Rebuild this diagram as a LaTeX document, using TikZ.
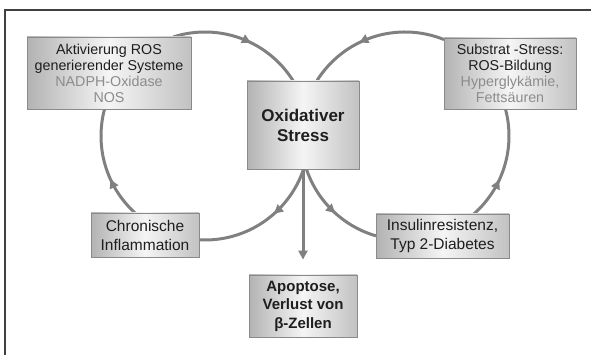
\documentclass[tikz,border=0pt]{standalone}
\usepackage{fontspec}
\setmainfont{Liberation Sans}
\usetikzlibrary{calc,arrows.meta,decorations.markings}
\definecolor{txt}{HTML}{1E1E1E}
\definecolor{txtgray}{HTML}{8C8C8C}
\definecolor{loopgray}{HTML}{808080}
\definecolor{boxedge}{HTML}{8A8A8A}
\tikzset{
  box/.style={draw=boxedge, line width=0.8pt, left color=black!30, right color=black!24, middle color=black!4,
    align=center, inner sep=2pt, text=txt},
  smalltext/.style={font=\fontsize{14.3}{16}\selectfont},
  midtext/.style={font=\fontsize{15.5}{19}\selectfont},
  loopline/.style={draw=loopgray, line width=3pt},
  tipat/.style={postaction={decorate}, decoration={markings,
    mark=at position #1 with {\arrow[loopgray]{Triangle[length=9pt,width=9pt]}}}},
}
\begin{document}
\begin{tikzpicture}[x=1pt,y=1pt]
\useasboundingbox (0,0) rectangle (591,355);
% frame (top and left edges)
\draw[black!75, line width=1.2pt] (591,345) -- (5,345) -- (5,0);
% circle centres
\coordinate (L) at (205,219);
\coordinate (R) at (405,219);
% loop connectors
\coordinate (a1) at ($(L)+(107.9:104pt)$);
\coordinate (b1) at ($(L)+(-18.5:104pt)$);
\coordinate (c1) at ($(L)+(-132.2:104pt)$);
\coordinate (d1) at ($(R)+(68:104pt)$);
\coordinate (e1) at ($(R)+(-161.5:104pt)$);
\coordinate (f1) at ($(R)+(-48.6:104pt)$);
\draw[loopline, tipat=0.58] (a1) arc[start angle=107.9, end angle=31.9, radius=104pt];
\draw[loopline, tipat=0.40] (b1) arc[start angle=-18.5, end angle=-93.3, radius=104pt];
\draw[loopline, tipat=0.37] (c1) arc[start angle=-132.2, end angle=-195.1, radius=104pt];
\draw[loopline, tipat=0.60] (d1) arc[start angle=68, end angle=148.1, radius=104pt];
\draw[loopline, tipat=0.53] (e1) arc[start angle=-161.5, end angle=-106.2, radius=104pt];
\draw[loopline, tipat=0.37] (f1) arc[start angle=-48.6, end angle=15.1, radius=104pt];
% nodes
\node[box, smalltext, minimum width=164pt, minimum height=72pt] (akt) at (109,282)
  {Aktivierung ROS\\generierender Systeme\\\textcolor{txtgray}{NADPH-Oxidase}\\\textcolor{txtgray}{NOS}};
\node[box, font=\bfseries\fontsize{17}{20}\selectfont, minimum width=112pt, minimum height=88pt] (ox) at (303,230)
  {Oxidativer\\Stress};
\node[box, smalltext, minimum width=132pt, minimum height=71pt] (sub) at (510,281.5)
  {Substrat -Stress:\\ROS-Bildung\\\textcolor{txtgray}{Hyperglykämie,}\\\textcolor{txtgray}{Fettsäuren}};
\node[box, midtext, minimum width=108pt, minimum height=44pt] (chr) at (145,120)
  {Chronische\\Inflammation};
\node[box, midtext, minimum width=133pt, minimum height=44pt] (ins) at (442.5,119)
  {Insulinresistenz,\\Typ 2-Diabetes};
\node[box, font=\bfseries\fontsize{15}{18.5}\selectfont, minimum width=108pt, minimum height=62pt] (apo) at (303,49)
  {Apoptose,\\Verlust von\\β-Zellen};
% down arrow
\draw[draw=loopgray, line width=3pt, -{Triangle[length=9pt,width=9pt]}, shorten >=15pt] (ox) -- (apo);
\end{tikzpicture}
\end{document}
